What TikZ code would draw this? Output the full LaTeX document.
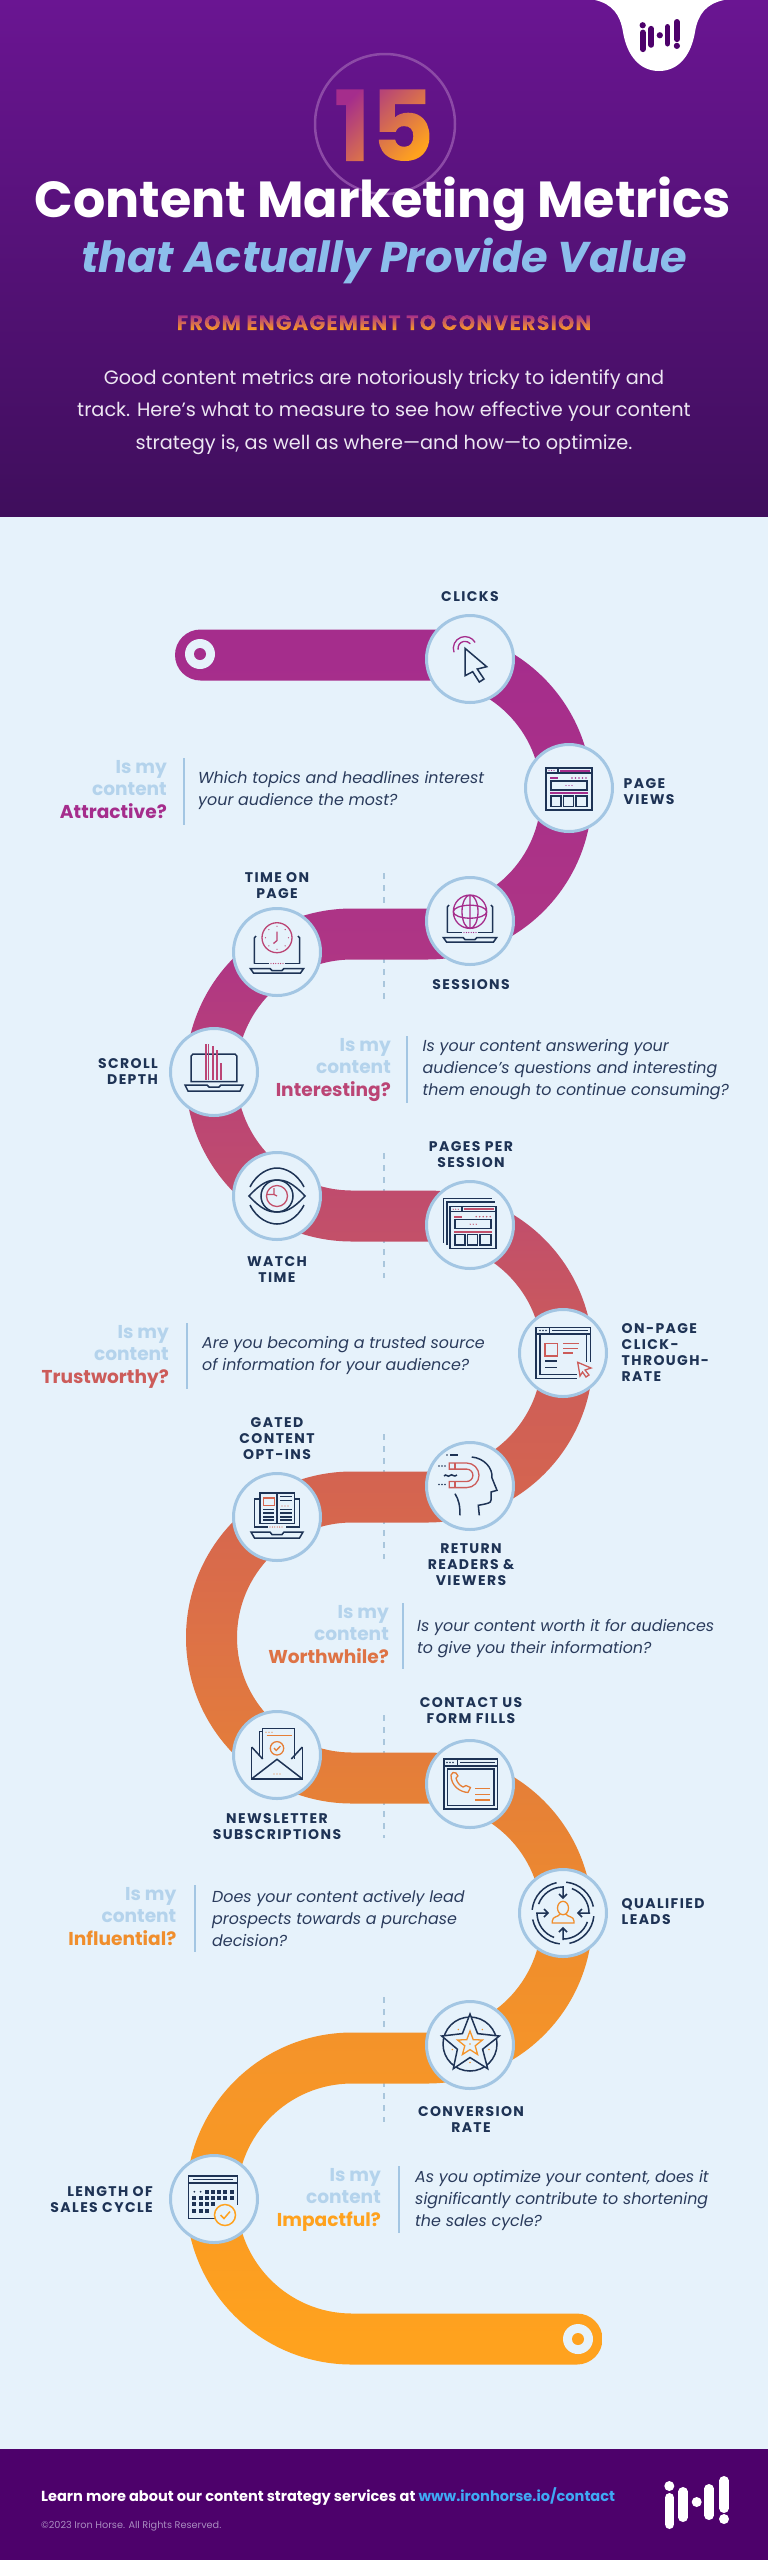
\documentclass[tikz,border=0pt]{standalone}
\usepackage{fontspec}
\setmainfont{Poppins}
\definecolor{navy}{HTML}{1E3355}
\definecolor{bg}{HTML}{E6F2FB}
\definecolor{ringc}{HTML}{A3C6E3}
\definecolor{qtext}{HTML}{2A3B5C}
\definecolor{isc}{HTML}{B4D3EC}
\definecolor{dashc}{HTML}{A9C6DC}
\definecolor{footc}{HTML}{4D016B}
\definecolor{headtop}{HTML}{6A1592}
\definecolor{headbot}{HTML}{3F0E5C}
\definecolor{ringtop}{HTML}{8C4AA6}
\definecolor{subc}{HTML}{8CBEEB}
\definecolor{parac}{HTML}{EDE6F2}
\definecolor{copyc}{HTML}{A98CC0}
\definecolor{urlc}{HTML}{3FA9F5}
\definecolor{c1}{HTML}{A52D8C}\definecolor{c2}{HTML}{AE3585}\definecolor{c3}{HTML}{BB4575}
\definecolor{c4}{HTML}{C24F6A}\definecolor{c5}{HTML}{CC5C5A}\definecolor{c6}{HTML}{D5654F}
\definecolor{c7}{HTML}{DE7345}\definecolor{c8}{HTML}{E57F38}\definecolor{c9}{HTML}{F08E2C}
\definecolor{c10}{HTML}{F59429}\definecolor{c11}{HTML}{FFA21E}
\pgfdeclareverticalshading{rib}{100bp}{color(0bp)=(c11);color(25.7bp)=(c11);color(33.8bp)=(c10);color(37bp)=(c9);color(41.8bp)=(c8);color(45.6bp)=(c7);color(49.9bp)=(c6);color(54.2bp)=(c5);color(57.8bp)=(c4);color(61.4bp)=(c3);color(65.8bp)=(c2);color(74.3bp)=(c1);color(100bp)=(c1)}
\newsavebox\gbox
\newcommand\gradtext[4]{\sbox\gbox{#4}\special{pdf:code q 7 Tr}\usebox\gbox\special{pdf:code 0 Tr}\llap{\tikz[baseline=0pt]{\shade[left color=#1,right color=#2,shading angle=#3] (0pt,-\dp\gbox) rectangle (\wd\gbox,\ht\gbox);}}\special{pdf:code Q}}
\newcommand\ihlogo[4]{\begin{scope}[shift={(#1,#2)},yscale=-1,x=#3pt,y=#3pt]
\fill[#4] (4.3,10) circle[radius=5] (31.7,26) circle[radius=5] (59,43) circle[radius=5];
\draw[#4,line cap=round,line width=9.5*#3] (4.5,21.75)--(4.5,48.25) (18,15.75)--(18,41.25) (44,12.75)--(44,39.25) (59,4.75)--(59,32.25);
\end{scope}}
\tikzset{
 x=1pt,y=1pt,
 metric/.style={circle,draw=ringc,line width=3pt,fill=bg,minimum size=87pt,inner sep=0pt},
 lab/.style={font=\fontsize{14}{16}\selectfont\bfseries\addfontfeature{LetterSpace=10},text=navy,inner sep=0pt,align=center},
 ask/.style={font=\fontsize{18.6}{22.5}\selectfont\bfseries,text=isc,inner sep=0pt,align=right,anchor=base east},
 qn/.style={font=\fontsize{15.9}{21.7}\selectfont\itshape,text=qtext,inner sep=0pt,align=left,anchor=base west},
 ic/.style={draw=navy,line width=1.5pt,line join=miter},
 ac/.style={draw=acc,line width=1.3pt},
 dots/.style={fill=acc},
 dashv/.style={draw=dashc,line width=1.5pt,dash pattern=on 6pt off 6pt},
 divd/.style={draw=#1,line width=1.5pt},
 icon/.style={shift={(#1)},yscale=-1}
}
\newcommand\laptop{
 \draw[ic] (-22.7,11.5)--(-22.7,-14)--(-21,-16);
 \draw[ic] (22.7,11.5)--(22.7,-14)--(21,-16);
 \draw[ic] (-22.7,11.5)--(-8,11.5) (8,11.5)--(22.7,11.5);
 \foreach \k in {-6,-3.6,...,6.1}{\fill[dots] (\k,11.5) circle[radius=.65];}
 \draw[ic] (-26.7,16.5)--(-7,16.5)--(-5,18.5)--(5,18.5)--(7,16.5)--(26.7,16.5)--(23.5,21)--(-23.5,21)--cycle;
}
\newcommand\webpage{
 \draw[ic] (-23,-20) rectangle (23,22);
 \draw[ic] (-23,-15)--(23,-15) (-11,-20)--(-11,-15);
 \draw[acc,line width=2pt] (-9,-17.5)--(21,-17.5);
 \foreach \k in {-20,-17.5,-15}{\fill[dots] (\k,-17.5) circle[radius=.7];}
 \draw[acc,line width=1.6pt] (-19,-10)--(-11,-10);
 \foreach \k in {3,6.5,10,13.5,17}{\fill[dots] (\k,-10) circle[radius=.8];}
 \draw[ic] (-18,-7) rectangle (18,2);
 \foreach \k in {-3,0,3}{\fill[dots] (\k,-2.5) circle[radius=.7];}
 \draw[acc,line width=1.6pt] (-19,5)--(19,5);
 \draw[ic] (-18,8) rectangle (-8,18.5) (-5.5,8) rectangle (4.5,18.5) (7,8) rectangle (18,18.5);
}
\begin{document}
\begin{tikzpicture}
\useasboundingbox (0,0) rectangle (768,-2560);
\fill[bg] (0,-516) rectangle (768,-2449);
\shade[top color=headtop,bottom color=headbot] (0,0) rectangle (768,-516);
\fill[footc] (0,-2449) rectangle (768,-2560);
% header
\fill[white] (595,0) .. controls (612,-4) and (620,-14) .. (623,-32) .. controls (627,-56) and (640,-71) .. (659,-71) .. controls (678,-71) and (691,-56) .. (695,-32) .. controls (698,-14) and (706,-4) .. (724,0) -- cycle;
\ihlogo{640}{-19}{0.625}{footc}
\node[circle,draw=ringtop,line width=2.5pt,minimum size=140pt,inner sep=0pt] (ring) at (385,-124) {};
\node[anchor=base,inner sep=0pt,font=\fontsize{98}{98}\selectfont\bfseries] (fifteen) at (384,-161) {\gradtext{c1}{c11}{45}{15}};
\node[anchor=base,inner sep=0pt,text=white,font=\fontsize{50.7}{56}\selectfont\bfseries] (title) at (383,-217) {Content Marketing Metrics};
\node[anchor=base,inner sep=0pt,text=subc,font=\fontsize{43}{48}\selectfont\bfseries\itshape] (subtitle) at (384,-272) {that Actually Provide Value};
\node[anchor=base,inner sep=0pt,font=\fontsize{21}{23}\selectfont\bfseries\addfontfeature{LetterSpace=5}] (tag) at (384,-330) {\gradtext{c1}{c11}{0}{FROM ENGAGEMENT TO CONVERSION}};
\node[anchor=base,inner sep=0pt,text=parac,align=center,font=\fontsize{19.3}{32.6}\selectfont] (para) at (384,-449.3) {Good content metrics are notoriously tricky to identify and\\track. Here’s what to measure to see how effective your content\\strategy is, as well as where—and how—to optimize.};
% dashes
\foreach \a/\b in {873/1000,1153/1278,1434/1559,1715/1838,1997/2122}{\coordinate (d1) at (384,-\a); \coordinate (d2) at (384,-\b); \draw[dashv] (d1)--(d2);}
% ribbon
\shade[shading=rib] (200.5,-629.5) -- (427,-629.5) arc[start angle=90,end angle=-90,radius=165]
 -- (352,-959.5) arc[start angle=90,end angle=270,radius=115.5]
 -- (427,-1190.5) arc[start angle=90,end angle=-90,radius=166]
 -- (352,-1522.5) arc[start angle=90,end angle=270,radius=115]
 -- (427,-1752.5) arc[start angle=90,end angle=-90,radius=165.5]
 -- (352,-2083.5) arc[start angle=90,end angle=270,radius=115]
 -- (577,-2313.5) arc[start angle=90,end angle=-90,radius=25.5]
 -- (352,-2364.5) arc[start angle=270,end angle=90,radius=166]
 -- (427,-2032.5) arc[start angle=-90,end angle=90,radius=114.5]
 -- (352,-1803.5) arc[start angle=270,end angle=90,radius=166]
 -- (427,-1471.5) arc[start angle=-90,end angle=90,radius=115]
 -- (352,-1241.5) arc[start angle=270,end angle=90,radius=166.5]
 -- (427,-908.5) arc[start angle=-90,end angle=90,radius=114]
 -- (200.5,-680.5) arc[start angle=270,end angle=90,radius=25.5] -- cycle;
\node[circle,fill=bg,minimum size=30pt,inner sep=0pt] (startdot) at (200,-654) {};
\node[circle,fill=c1,minimum size=12pt,inner sep=0pt] (startin) at (startdot) {};
\node[circle,fill=bg,minimum size=30pt,inner sep=0pt] (enddot) at (578,-2339) {};
\node[circle,fill=c11,minimum size=12pt,inner sep=0pt] (endin) at (enddot) {};
% metric discs
\node[metric] (clicks) at (470,-659) {};
\node[metric] (views) at (569,-788) {};
\node[metric] (sessions) at (470,-921) {};
\node[metric] (time) at (277,-952) {};
\node[metric] (scroll) at (214,-1072) {};
\node[metric] (watch) at (277,-1196) {};
\node[metric] (pages) at (470,-1225) {};
\node[metric] (onpage) at (563,-1353) {};
\node[metric] (return) at (470,-1486) {};
\node[metric] (gated) at (277,-1517) {};
\node[metric] (news) at (277,-1755) {};
\node[metric] (contact) at (470,-1784) {};
\node[metric] (leads) at (563,-1913) {};
\node[metric] (conv) at (470,-2045) {};
\node[metric] (cycle) at (214,-2199) {};
% icons
\colorlet{acc}{c1}
\begin{scope}[icon=clicks.center]
 \draw[ac] (-5,-10.7) ++(160:11.7) arc[start angle=160,end angle=330,radius=11.7];
 \draw[ac] (-5,-10.7) ++(170:7) arc[start angle=170,end angle=320,radius=7];
 \draw[ic,fill=bg] (-5,-10.7)--(16.7,7.7)--(7.3,10)--(14,20)--(9.3,23)--(2.7,12.7)--(-5,16.7)--cycle;
\end{scope}
\begin{scope}[icon=views.center]\webpage\end{scope}
\begin{scope}[icon=sessions.center]
 \laptop
 \draw[ac] (0,-9.3) circle[radius=16.7] (0,-9.3) ellipse[x radius=8,y radius=16.7] (0,-9.3) ellipse[x radius=16.7,y radius=6.5] (0,-26)--(0,7.4);
\end{scope}
\colorlet{acc}{c3}
\begin{scope}[icon=time.center]
 \laptop
 \draw[ac] (0,-14.3) circle[radius=15];
 \foreach \k in {0,45,...,315}{\fill[dots] (0,-14.3) ++(\k:11.5) circle[radius=.7];}
 \draw[ac] (0,-20.5)--(0,-11.5)--(-3.5,-8.5);
\end{scope}
\begin{scope}[icon=scroll.center]
 \draw[ic] (-22.8,9.7)--(-22.8,-16)--(-21,-18)--(21,-18)--(22.8,-16)--(22.8,9.7)--cycle;
 \draw[ic] (-29,13)--(-7,13)--(-5,15)--(5,15)--(7,13)--(29,13)--(26,19)--(-26,19)--cycle;
 \draw[acc,line width=1.4pt] (-8,-27.7)--(-8,8) (-5.5,-27.7)--(-5.5,8) (-1,-26)--(-1,8) (3,-22)--(3,8) (7,-8.7)--(7,8);
\end{scope}
\colorlet{acc}{c4}
\begin{scope}[icon=watch.center]
 \draw[ic] (-28,0) .. controls (-15,-14) and (-8,-16) .. (0,-16) .. controls (8,-16) and (15,-14) .. (28,0) .. controls (15,14) and (8,16) .. (0,16) .. controls (-8,16) and (-15,14) .. (-28,0) -- cycle;
 \draw[ic] (-27,-9) .. controls (-20,-23) and (-8,-28) .. (0,-28) .. controls (8,-28) and (20,-23) .. (27,-9);
 \draw[ic] (-27,9) .. controls (-20,23) and (-8,28) .. (0,28) .. controls (8,28) and (20,23) .. (27,9);
 \draw[ic] (0,0) circle[radius=16];
 \draw[ac] (0,0) circle[radius=10.5];
 \draw[ac] (-3,-8)--(-3,-1.5)--(-10,-1.5) (-3,-1.5)--(0,0);
\end{scope}
\begin{scope}[icon=pages.center]
 \begin{scope}[shift={(3.2,1.7)}]\webpage\end{scope}
 \draw[ic] (-26.7,18)--(-26.7,-26.7)--(21.7,-26.7);
 \draw[ic] (-23,20)--(-23,-23)--(25,-23);
\end{scope}
\colorlet{acc}{c5}
\begin{scope}[icon=onpage.center]
 \draw[ic] (27.7,8.5)--(27.7,-25.7)--(-27,-25.7)--(-27,25.3)--(14,25.3);
 \draw[ic] (-27,-19)--(27.7,-19) (-13.7,-25.7)--(-13.7,-19) (-11,-22.5)--(25,-22.5);
 \draw[ic] (-23,-19)--(-23,21.5)--(14,21.5) (23.7,-19)--(23.7,8.5);
 \foreach \k in {-23,-20,-17}{\fill[navy] (\k,-22.5) circle[radius=.8];}
 \draw[ac] (-18,-9.7) rectangle (-5.7,3);
 \draw[ac] (0,-9.7)--(16,-9.7) (0,-4.7)--(15,-4.7) (0,0)--(10,0);
 \draw[ic] (-18,8)--(-5.7,8) (-18,14.3)--(-5.7,14.3);
 \draw[ac,fill=bg] (14.7,9.3)--(28,15)--(22,17)--(26,22)--(23,24)--(19.5,19)--(17,23)--cycle;
\end{scope}
\begin{scope}[icon=return.center]
 \draw[ic] (1.7,-29) .. controls (14,-28) and (23,-18) .. (22,-8) -- (27,4.3) -- (21,6) -- (21,14) .. controls (21,17) and (18,17.5) .. (8.3,19.3) -- (9.3,29.3);
 \draw[ic] (-15,7.7) .. controls (-11,14) and (-10,20) .. (-10,29.3);
 \draw[ac] (-20.7,-23)--(-3.3,-23) arc[start angle=-90,end angle=90,radius=12.3] -- (-20.7,1.6)--(-20.7,-4.5)--(-3.3,-4.5) arc[start angle=90,end angle=-90,radius=6.2] -- (-20.7,-16.9)--cycle;
 \draw[ac] (-15,-23)--(-15,-16.9) (-15,1.6)--(-15,-4.5);
 \foreach \k in {-31,-28,-25}{\fill[navy] (\k,-20) circle[radius=.8] (\k,-1.5) circle[radius=.8];}
 \draw[ic] (-20,-31)--(-12,-31);\fill[navy] (-23,-31) circle[radius=.8];
 \draw[ic] (-26,-10) .. controls (-24,-13) and (-22,-8) .. (-20,-10.5) .. controls (-18,-13) and (-16,-8) .. (-13,-11);
\end{scope}
\colorlet{acc}{c6}
\begin{scope}[icon=gated.center]
 \draw[ic] (-18,-18)--(-22.7,-18)--(-22.7,10) (18,-18)--(22.7,-18)--(22.7,10) (-22.7,10)--(-9,10) (9,10)--(22.7,10);
 \foreach \k in {-7,-4.6,...,7.1}{\fill[dots] (\k,10) circle[radius=.65];}
 \draw[ic] (-26,15)--(-7,15)--(-5,17.5)--(5,17.5)--(7,15)--(26,15)--(22.5,21)--(-22.5,21)--cycle;
 \draw[ic,fill=bg] (-17,-24) rectangle (-0.5,6.5) (0.5,-24) rectangle (17.3,6.5);
 \draw[ac] (-13.7,-19) rectangle (-2.7,-11.3);
 \draw[ic] (-13.7,-7.5)--(-2.7,-7.5) (-13.7,-4)--(-2.7,-4) (-13.7,0)--(-2.7,0) (-13.7,3)--(-2.7,3);
 \draw[ic] (3,-20.5)--(14.5,-20.5) (3,-16.5)--(14.5,-16.5) (3,-7.5)--(14.5,-7.5) (3,-4)--(14.5,-4) (3,0)--(14.5,0) (3,3)--(14.5,3);
 \foreach \k in {5,8,11}{\fill[dots] (\k,-11) circle[radius=.7];}
\end{scope}
\colorlet{acc}{c8}
\begin{scope}[icon=news.center]
 \draw[ic] (-17.6,0)--(-17.6,-23.5)--(-14,-23.5);
 \draw[ic] (-14.3,4)--(-14.3,-26.7)--(17.3,-26.7)--(17.3,4);
 \foreach \k in {-11,-8,-5}{\fill[dots] (\k,-22.8) circle[radius=.7];}
 \draw[acc,line width=1.5pt] (-10.5,-19.5)--(14.5,-19.5);
 \draw[ac] (0,-6.7) circle[radius=6.7];
 \draw[ac] (-3,-7)--(-.8,-4.5)--(3.5,-9);
 \draw[ic] (-25.3,-8)--(-25.3,23.8)--(25.3,23.8)--(25.3,-8);
 \draw[ic] (-25.3,-8)--(-14.3,4) (25.3,-8)--(14.3,4);
 \draw[ic] (-25.3,23.8)--(0,4.3)--(25.3,23.8);
 \foreach \k in {-3,0,3}{\fill[dots] (\k,19) circle[radius=.7];}
\end{scope}
\begin{scope}[icon=contact.center]
 \draw[ic] (-26,-25) rectangle (27.3,25);
 \draw[ic] (-26,-18)--(27.3,-18) (-12.7,-25)--(-12.7,-18) (-10,-21.5)--(25,-21.5);
 \draw[ic] (-22.7,-15) rectangle (24,21.7);
 \foreach \k in {-23,-20,-17}{\fill[navy] (\k,-21.5) circle[radius=.8];}
 \draw[ac,line join=round] (-19,-9) .. controls (-19,2) and (-10,8) .. (-2,8.5) -- (0.5,3.5) -- (-4,1.5) -- (-7,3) .. controls (-11,1) and (-13,-2) .. (-14,-6) -- (-12,-8) -- (-14,-11) -- (-17,-11.5) -- cycle;
 \draw[acc,line width=1.6pt] (5,4.3)--(19.5,4.3) (5,10.3)--(19.5,10.3) (5,16)--(19.5,16);
\end{scope}
\colorlet{acc}{c9}
\begin{scope}[icon=leads.center]
 \foreach \a in {0,90,180,270}{
  \begin{scope}[rotate=\a]
   \draw[ic] (0,-27)--(0,-15) (-4,-19)--(0,-15)--(4,-19);
   \draw[ic] (-90:26) arc[start angle=-90,end angle=-160,radius=26];
   \draw[ic] (-84:31) arc[start angle=-84,end angle=-12,radius=31];
  \end{scope}}
 \draw[ac] (0,-5) ellipse[x radius=5.5,y radius=6.7];
 \draw[ac] (-3,1) .. controls (-4,4) and (-10.7,3) .. (-10.7,8) -- (-10.7,10) -- (11,10) -- (11,8) .. controls (11,3) and (4,4) .. (3,1);
\end{scope}
\colorlet{acc}{c10}
\begin{scope}[icon=conv.center]
 \draw[ic] (0,-1) circle[radius=27];
 \draw[ic,fill=bg] (0,-31)--(7.6,-11.4)--(29.3,-9)--(12.6,4.2)--(17.7,23.7)--(0,12.5)--(-16.7,23.7)--(-12.6,4.2)--(-28.3,-9)--(-7.6,-11.4)--cycle;
 \draw[ac] (0,-14)--(3.2,-5.4)--(12.4,-5)--(5.2,.8)--(7.6,9.5)--(0,4.6)--(-7.6,9.5)--(-5.2,.8)--(-12.4,-5)--(-3.2,-5.4)--cycle;
 \foreach \p in {(-11.7,-15.5),(12.3,-15.5),(-17.7,4.5),(19,4.5),(0,17.5),(0,-1)}{\fill[dots] \p circle[radius=.8];}
\end{scope}
\colorlet{acc}{c11}
\begin{scope}[icon=cycle.center]
 \draw[ic] (-25.7,-17.3)--(-25.7,-23)--(23.7,-23)--(23.7,-17.3);
 \draw[ic] (-20.7,-19.7)--(19.3,-19.7);
 \draw[ic] (1,19.3)--(-25.7,19.3)--(-25.7,-16)--(23.7,-16)--(23.7,6);
 \foreach \xx/\yy in {-7.3/-7.3,-1.3/-7.3,5/-7.3,11.3/-7.3,17.7/-7.3,-19.7/-.7,-13.3/-.7,-7.3/-.7,-1.3/-.7,5/-.7,11.3/-.7,17.7/-.7,-19.7/5.3,-13.3/5.3,-7.3/5.3,-1.3/5.3,-19.7/11.7,-13.3/11.7,-7.3/11.7}{\fill[navy] (\xx-2,\yy-2) rectangle (\xx+2,\yy+2);}
 \fill[navy] (-19.7,-7.3) circle[radius=1] (-13.3,-7.3) circle[radius=1];
 \draw[ac,line width=1.5pt,fill=bg] (11,16) circle[radius=10.5];
 \draw[ac,line width=1.5pt] (6.5,16)--(10,19.5)--(16,12.5);
\end{scope}
% labels
\node[lab,anchor=base] (lclicks) at (470,-601) {CLICKS};
\node[lab,anchor=base west,align=left] (lviews) at (623.5,-804) {PAGE\\VIEWS};
\node[lab,anchor=base] (ltime) at (277,-898) {TIME ON\\PAGE};
\node[lab,anchor=base] (lsessions) at (471,-989) {SESSIONS};
\node[lab,anchor=base east,align=right] (lscroll) at (158,-1084) {SCROLL\\DEPTH};
\node[lab,anchor=base] (lwatch) at (277,-1282) {WATCH\\TIME};
\node[lab,anchor=base] (lpages) at (471,-1167) {PAGES PER\\SESSION};
\node[lab,anchor=base west,align=left] (lonpage) at (621.5,-1381.5) {ON-PAGE\\CLICK-\\THROUGH-\\RATE};
\node[lab,anchor=base] (lgated) at (277,-1459) {GATED\\CONTENT\\OPT-INS};
\node[lab,anchor=base] (lreturn) at (471,-1585.5) {RETURN\\READERS \&\\VIEWERS};
\node[lab,anchor=base] (lnews) at (277,-1839) {NEWSLETTER\\SUBSCRIPTIONS};
\node[lab,anchor=base] (lcontact) at (471,-1723) {CONTACT US\\FORM FILLS};
\node[lab,anchor=base west,align=left] (lleads) at (621.5,-1924) {QUALIFIED\\LEADS};
\node[lab,anchor=base] (lconv) at (471,-2132) {CONVERSION\\RATE};
\node[lab,anchor=base east,align=right] (lcycle) at (153,-2212) {LENGTH OF\\SALES CYCLE};
% question blocks
\node[ask] (a1) at (167,-818) {Is my\\content\\\textcolor{c1}{Attractive?}};
\draw[divd=ringc] (184,-758)--(184,-825);
\node[qn] (q1) at (198,-805) {Which topics and headlines interest\\your audience the most?};
\node[ask] (a2) at (391,-1096) {Is my\\content\\\textcolor{c3}{Interesting?}};
\draw[divd=ringc] (407,-1036)--(407,-1103);
\node[qn] (q2) at (422.5,-1095) {Is your content answering your\\audience’s questions and interesting\\them enough to continue consuming?};
\node[ask] (a3) at (169,-1383) {Is my\\content\\\textcolor{c5}{Trustworthy?}};
\draw[divd=ringc] (187,-1323)--(187,-1389);
\node[qn] (q3) at (202,-1370) {Are you becoming a trusted source\\of information for your audience?};
\node[ask] (a4) at (389,-1663) {Is my\\content\\\textcolor{c7}{Worthwhile?}};
\draw[divd=ringc] (403,-1603)--(403,-1669);
\node[qn] (q4) at (417,-1653) {Is your content worth it for audiences\\to give you their information?};
\node[ask] (a5) at (176.5,-1945) {Is my\\content\\\textcolor{c9}{Influential?}};
\draw[divd=ringc] (195,-1885)--(195,-1952);
\node[qn] (q5) at (212,-1946) {Does your content actively lead\\prospects towards a purchase\\decision?};
\node[ask] (a6) at (381,-2226) {Is my\\content\\\textcolor{c11}{Impactful?}};
\draw[divd=ringc] (399,-2166)--(399,-2233);
\node[qn] (q6) at (415,-2226) {As you optimize your content, does it\\significantly contribute to shortening\\the sales cycle?};
% footer
\node[anchor=base west,inner sep=0pt,text=white,font=\fontsize{14.55}{16}\selectfont\bfseries] (learn) at (41,-2501) {Learn more about our content strategy services at \textcolor{urlc}{www.ironhorse.io/contact}};
\node[anchor=base west,inner sep=0pt,text=copyc,font=\fontsize{9.7}{11}\selectfont] (copy) at (41,-2528) {©2023 Iron Horse. All Rights Reserved.};
\ihlogo{665}{-2476}{1}{white}
\end{tikzpicture}
\end{document}
